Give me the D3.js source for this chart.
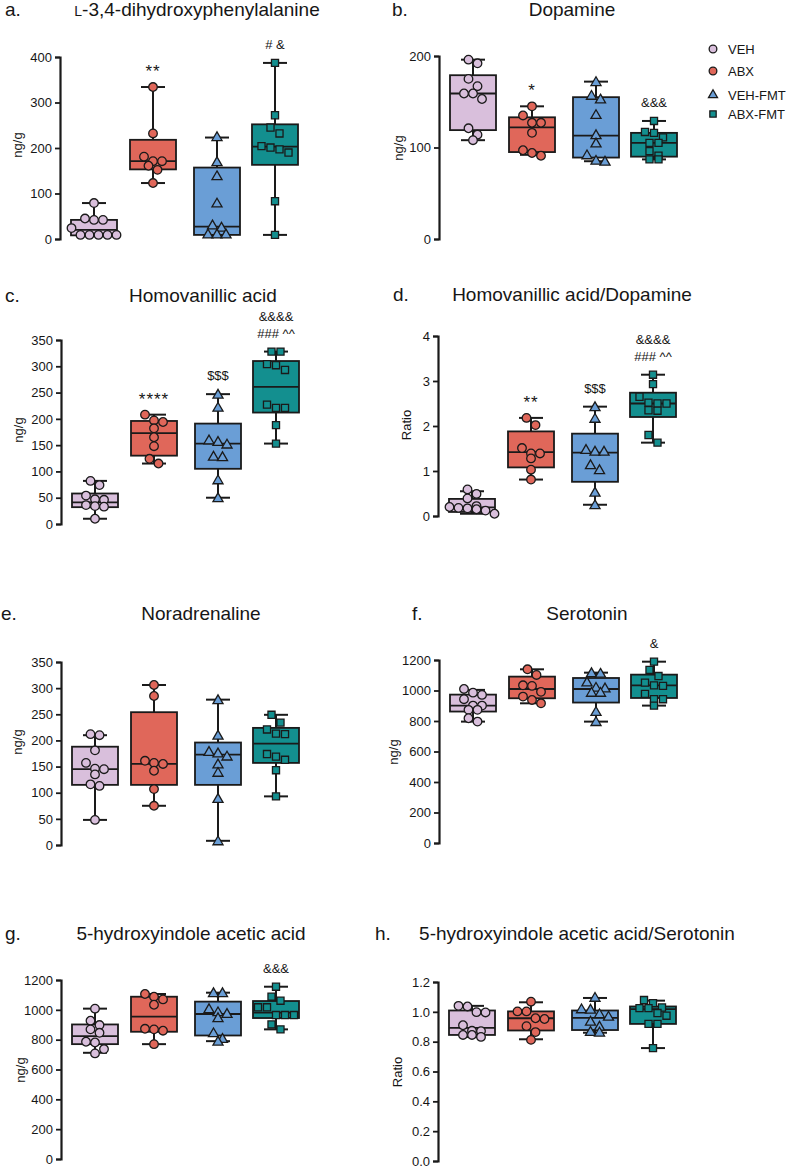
<!DOCTYPE html>
<html><head><meta charset="utf-8">
<script src="https://cdn.jsdelivr.net/npm/d3@7"></script>
<style>
body{margin:0;background:#fff}
svg{display:block}
text{font-family:"Liberation Sans",Arial,Helvetica,sans-serif;fill:#161616}
</style>
</head><body>
<svg id="chart" width="786" height="1169"></svg>
<script>
// ---------------- DATA ----------------
const groups = ["VEH", "ABX", "VEH-FMT", "ABX-FMT"];

// a. L-3,4-dihydroxyphenylalanine (ng/g)
const ldopaValues = [
  [79, 45, 42, 42, 24, 9, 9, 9, 9, 9],
  [334, 232, 181, 171, 171, 161, 152, 123],
  [225, 170, 139, 79, 31, 26, 11, 11, 11],
  [387, 272, 245, 232, 204, 201, 197, 190, 83, 9]
];
const ldopaBoxes = [ // [min, q1, median, q3, max]
  [9, 8, 20, 42, 79],
  [123, 153, 171, 218, 334],
  [9, 9, 27, 157, 223],
  [9, 163, 203, 252, 387]
];
const ldopaSig = ["", "**", "", "# &"];
const ldopaTicks = [0, 100, 200, 300, 400];

// b. Dopamine (ng/g)
const daValues = [
  [196, 192, 175, 167, 159, 159, 153, 121, 114, 108],
  [145, 135, 127, 127, 116, 97, 94, 91],
  [172, 157, 153, 136, 114, 105, 92, 86, 85],
  [129, 117, 116, 111, 105, 105, 96, 91, 87, 87]
];
const daBoxes = [
  [108, 119, 159, 179, 196],
  [92, 95, 122, 133, 145],
  [85, 89, 113, 155, 172],
  [87, 90, 105, 116, 129]
];
const daSig = ["", "*", "", "&&&"];
const daTicks = [0, 100, 200];

// c. Homovanillic acid (ng/g)
const hvaValues = [
  [82, 74, 54, 47, 46, 36, 34, 33, 10],
  [208, 197, 194, 182, 165, 148, 124, 115],
  [247, 222, 160, 157, 152, 129, 128, 84, 50],
  [328, 328, 304, 302, 293, 227, 221, 221, 188, 153]
];
const hvaBoxes = [
  [10, 32, 41, 58, 82],
  [115, 130, 173, 196, 208],
  [50, 105, 153, 191, 247],
  [153, 212, 261, 310, 328]
];
const hvaSig = ["", "****", "$$$", "&&&&|###  ^^"];
const hvaTicks = [0, 50, 100, 150, 200, 250, 300, 350];

// d. Homovanillic acid/Dopamine (ratio)
const hvaDaValues = [
  [0.59, 0.49, 0.39, 0.22, 0.20, 0.18, 0.17, 0.15, 0.12, 0.05],
  [2.18, 2.02, 1.51, 1.39, 1.39, 1.28, 1.03, 0.81],
  [2.43, 2.17, 1.48, 1.44, 1.44, 1.14, 1.03, 0.53, 0.25],
  [3.14, 2.93, 2.65, 2.52, 2.50, 2.50, 2.35, 2.34, 1.80, 1.63]
];
const hvaDaBoxes = [
  [0.05, 0.09, 0.19, 0.38, 0.55],
  [0.81, 1.08, 1.42, 1.88, 2.18],
  [0.25, 0.76, 1.41, 1.83, 2.43],
  [1.63, 2.20, 2.50, 2.74, 3.14]
];
const hvaDaSig = ["", "**", "$$$", "&&&&|### ^^"];
const hvaDaTicks = [0, 1, 2, 3, 4];

// e. Noradrenaline (ng/g)
const naValues = [
  [212, 210, 181, 157, 146, 145, 135, 116, 113, 48],
  [306, 285, 161, 157, 155, 142, 107, 75],
  [278, 210, 179, 176, 170, 155, 139, 89, 8],
  [249, 234, 221, 213, 212, 174, 169, 163, 143, 93]
];
const naBoxes = [
  [48, 115, 145, 188, 210],
  [75, 115, 155, 254, 306],
  [8, 115, 173, 196, 278],
  [93, 157, 194, 224, 249]
];
const naSig = ["", "", "", ""];
const naTicks = [0, 50, 100, 150, 200, 250, 300, 350];

// f. Serotonin (ng/g)
const htValues = [
  [1010, 986, 971, 943, 901, 901, 873, 873, 818, 796],
  [1139, 1102, 1034, 1030, 991, 960, 938, 916],
  [1117, 1113, 1056, 1021, 1017, 988, 988, 862, 796],
  [1189, 1135, 1095, 1052, 1034, 1030, 978, 943, 943, 901]
];
const htBoxes = [
  [796, 862, 901, 973, 1004],
  [916, 949, 1010, 1091, 1139],
  [796, 921, 1010, 1082, 1117],
  [901, 951, 1034, 1104, 1189]
];
const htSig = ["", "", "", "&"];
const htTicks = [0, 200, 400, 600, 800, 1000, 1200];

// g. 5-hydroxyindole acetic acid (ng/g)
const hiaaValues = [
  [1008, 927, 898, 869, 846, 786, 781, 737, 708],
  [1106, 1088, 1070, 1034, 873, 869, 860, 770],
  [1115, 1115, 1008, 987, 976, 947, 846, 808, 790],
  [1155, 1088, 1061, 1017, 1017, 965, 965, 965, 902, 869]
];
const hiaaBoxes = [
  [712, 770, 824, 902, 1008],
  [770, 853, 954, 1088, 1106],
  [790, 828, 972, 1055, 1115],
  [869, 945, 981, 1059, 1155]
];
const hiaaSig = ["", "", "", "&&&"];
const hiaaTicks = [0, 200, 400, 600, 800, 1000, 1200];

// h. 5-hydroxyindole acetic acid/Serotonin (ratio)
const hiaaHtValues = [
  [1.040, 1.036, 0.998, 0.996, 0.910, 0.873, 0.871, 0.845, 0.845, 0.832],
  [1.068, 1.003, 1.003, 0.957, 0.952, 0.904, 0.864, 0.812],
  [1.097, 1.020, 1.018, 0.987, 0.970, 0.937, 0.904, 0.869, 0.864],
  [1.079, 1.058, 1.029, 1.025, 1.025, 0.992, 0.974, 0.919, 0.919, 0.757]
];
const hiaaHtBoxes = [
  [0.832, 0.845, 0.893, 1.009, 1.040],
  [0.816, 0.875, 0.957, 1.003, 1.064],
  [0.860, 0.878, 0.959, 1.009, 1.093],
  [0.757, 0.919, 1.018, 1.036, 1.075]
];
const hiaaHtSig = ["", "", "", ""];
const hiaaHtTicks = [0, 0.2, 0.4, 0.6, 0.8, 1.0, 1.2];

// ---------------- STYLE / LAYOUT ----------------
const fills = ["#d9bfdc", "#e0675a", "#6a9ed6", "#138f8f"];
const ink = "#1a1a1a";
const symbols = [d3.symbolCircle, d3.symbolCircle, d3.symbolTriangle, d3.symbolSquare];
const symSizes = [58, 58, 44, 50];
const groupOffsets = [34, 93, 157, 215];
const boxW = 46, capW = 24;

const panels = [
  {letter:"a.", title:"L-3,4-dihydroxyphenylalanine", smallL:true, values:ldopaValues, boxes:ldopaBoxes, sig:ldopaSig, ticks:ldopaTicks, ylabel:"ng/g",
   axisX:60, yTop:57, yBot:239, letterX:5, titleX:197, titleY:16, ylabX:17, ylabY:145},
  {letter:"b.", title:"Dopamine", values:daValues, boxes:daBoxes, sig:daSig, ticks:daTicks, ylabel:"ng/g",
   axisX:439, yTop:56, yBot:239, letterX:392, titleX:572, titleY:16, ylabX:398, ylabY:148},
  {letter:"c.", title:"Homovanillic acid", values:hvaValues, boxes:hvaBoxes, sig:hvaSig, ticks:hvaTicks, ylabel:"ng/g",
   axisX:61, yTop:340, yBot:524, letterX:5, titleX:203, titleY:302, ylabX:18, ylabY:430},
  {letter:"d.", title:"Homovanillic acid/Dopamine", values:hvaDaValues, boxes:hvaDaBoxes, sig:hvaDaSig, ticks:hvaDaTicks, ylabel:"Ratio",
   axisX:438, yTop:336, yBot:516, letterX:393, titleX:572, titleY:301, ylabX:406, ylabY:425},
  {letter:"e.", title:"Noradrenaline", values:naValues, boxes:naBoxes, sig:naSig, ticks:naTicks, ylabel:"ng/g",
   axisX:61, yTop:662, yBot:845, letterX:1, titleX:201, titleY:620, ylabX:17, ylabY:742},
  {letter:"f.", title:"Serotonin", values:htValues, boxes:htBoxes, sig:htSig, ticks:htTicks, ylabel:"ng/g",
   axisX:439, yTop:660, yBot:843, letterX:412, titleX:587, titleY:620, ylabX:393, ylabY:752},
  {letter:"g.", title:"5-hydroxyindole acetic acid", values:hiaaValues, boxes:hiaaBoxes, sig:hiaaSig, ticks:hiaaTicks, ylabel:"ng/g",
   axisX:61, yTop:980, yBot:1159, letterX:5, titleX:191, titleY:940, ylabX:20, ylabY:1070},
  {letter:"h.", title:"5-hydroxyindole acetic acid/Serotonin", values:hiaaHtValues, boxes:hiaaHtBoxes, sig:hiaaHtSig, ticks:hiaaHtTicks, ylabel:"Ratio", fmt:".1f",
   axisX:438, yTop:982, yBot:1161, letterX:375, titleX:577, titleY:940, ylabX:397, ylabY:1072}
];

const svg = d3.select("#chart");

// arrange points in horizontal rows (GraphPad-like scatter)
function arrange(vals, y, spacing, thresh) {
  const idx = vals.map((v, i) => i).sort((a, b) => vals[b] - vals[a]);
  const rows = [];
  let cur = null;
  idx.forEach(i => {
    const py = y(vals[i]);
    if (cur && Math.abs(py - cur.y0) < thresh) cur.items.push(i);
    else { cur = {y0: py, items: [i]}; rows.push(cur); }
  });
  const out = [];
  rows.forEach(r => {
    const n = r.items.length;
    r.items.forEach((i, k) => out.push({v: vals[i], dx: (k - (n - 1) / 2) * spacing}));
  });
  return out;
}

panels.forEach(p => {
  const g = svg.append("g");
  const maxT = p.ticks[p.ticks.length - 1];
  const y = d3.scaleLinear().domain([0, maxT]).range([p.yBot, p.yTop]);
  const x = d3.scaleOrdinal().domain(groups).range(groupOffsets.map(o => p.axisX + o));

  // letter and title
  g.append("text").attr("x", p.letterX).attr("y", p.titleY).attr("font-size", 19).text(p.letter);
  const t = g.append("text").attr("x", p.titleX).attr("y", p.titleY).attr("font-size", 19).attr("text-anchor", "middle");
  if (p.smallL) {
    t.append("tspan").attr("font-size", 14).text("L");
    t.append("tspan").text(p.title.slice(1));
  } else t.text(p.title);

  // y axis
  const ax = g.append("g").attr("transform", `translate(${p.axisX},0)`)
    .call(d3.axisLeft(y).tickValues(p.ticks).tickSizeOuter(0).tickSize(5).tickPadding(3)
      .tickFormat(p.fmt ? d3.format(p.fmt) : d3.format("d")));
  ax.select(".domain").attr("stroke", ink).attr("stroke-width", 2.2);
  ax.selectAll(".tick line").attr("stroke", ink).attr("stroke-width", 1.8);
  ax.selectAll(".tick text").attr("font-size", 13).attr("fill", "#161616")
    .attr("font-family", '"Liberation Sans",Arial,sans-serif');

  g.append("text").attr("transform", `translate(${p.ylabX},${p.ylabY}) rotate(-90)`)
    .attr("text-anchor", "middle").attr("dominant-baseline", "central").attr("font-size", 13).text(p.ylabel);

  groups.forEach((gr, gi) => {
    const cx = x(gr);
    const [mn, q1, md, q3, mx] = p.boxes[gi];
    const gg = g.append("g");
    // whisker
    gg.append("line").attr("x1", cx).attr("x2", cx).attr("y1", y(mx)).attr("y2", y(mn))
      .attr("stroke", ink).attr("stroke-width", 2);
    [mn, mx].forEach(v => gg.append("line").attr("x1", cx - capW / 2).attr("x2", cx + capW / 2)
      .attr("y1", y(v)).attr("y2", y(v)).attr("stroke", ink).attr("stroke-width", 2));
    // box
    gg.append("rect").attr("x", cx - boxW / 2).attr("width", boxW)
      .attr("y", y(q3)).attr("height", Math.max(1, y(q1) - y(q3)))
      .attr("fill", fills[gi]).attr("stroke", ink).attr("stroke-width", 1.8);
    gg.append("line").attr("x1", cx - boxW / 2).attr("x2", cx + boxW / 2)
      .attr("y1", y(md)).attr("y2", y(md)).attr("stroke", ink).attr("stroke-width", 1.8);
    // points
    const pts = arrange(p.values[gi], y, 9, 8);
    const sym = d3.symbol().type(symbols[gi]).size(symSizes[gi]);
    gg.selectAll("path.pt").data(pts).join("path").attr("class", "pt")
      .attr("d", sym)
      .attr("transform", d => `translate(${cx + d.dx},${y(d.v) + (gi === 2 ? 1 : 0)})`)
      .attr("fill", fills[gi]).attr("stroke", ink).attr("stroke-width", 1.3);
    // significance marks
    const s = p.sig[gi];
    if (s) {
      const lines = s.split("|");
      const top = y(mx);
      lines.slice().reverse().forEach((ln, k) => {
        const isStar = /^\*+$/.test(ln);
        gg.append("text").attr("x", cx).attr("y", top - (isStar ? 10 : 14) - k * 17)
          .attr("text-anchor", "middle")
          .attr("font-size", isStar ? 17 : 13)
          .attr("letter-spacing", isStar ? 1 : 0)
          .text(ln);
      });
    }
  });
});

// legend
const legY = [49, 71, 95, 114];
const leg = svg.append("g");
groups.forEach((gr, gi) => {
  leg.append("path").attr("d", d3.symbol().type(symbols[gi]).size(symSizes[gi] * 0.8)())
    .attr("transform", `translate(713,${legY[gi]})`)
    .attr("fill", fills[gi]).attr("stroke", ink).attr("stroke-width", 1.3);
  leg.append("text").attr("x", 728).attr("y", legY[gi] + 5).attr("font-size", 13).text(gr);
});
</script>
</body></html>
